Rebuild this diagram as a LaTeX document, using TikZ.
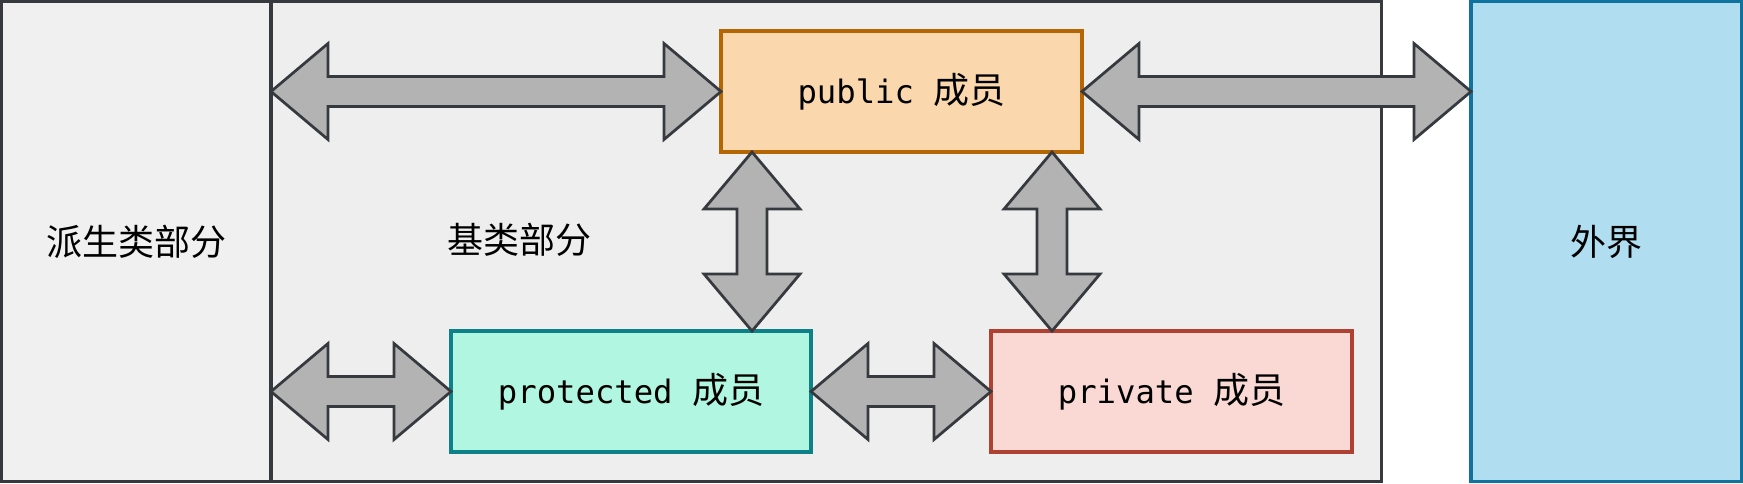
\documentclass[tikz,border=0pt]{standalone}
\usepackage{fontspec}
\setmonofont{DejaVu Sans Mono}
\newfontfamily\cjk{Noto Sans CJK SC}
\usetikzlibrary{calc}
\definecolor{dark}{HTML}{36393D}
\definecolor{leftfill}{HTML}{F0F0F0}
\definecolor{basefill}{HTML}{EEEEEE}
\definecolor{arrowgray}{HTML}{B3B3B3}
\definecolor{pubfill}{HTML}{FAD7AC}
\definecolor{publine}{HTML}{B46504}
\definecolor{protfill}{HTML}{B0F6E0}
\definecolor{protline}{HTML}{0E8088}
\definecolor{privfill}{HTML}{FAD9D5}
\definecolor{privline}{HTML}{AE4132}
\definecolor{outfill}{HTML}{B1DDF0}
\definecolor{outline}{HTML}{10739E}
\newcommand\cnsz{\fontsize{14.4}{16}\cjk}
\tikzset{
  panel/.style={draw=dark, line width=1.3pt, inner sep=0pt, outer sep=0pt,
    minimum height=192pt, font=\cnsz},
  member/.style={line width=1.4pt, inner sep=0pt, outer sep=0pt,
    minimum height=48.4pt, font=\fontsize{12.9}{15}\selectfont\ttfamily},
  arr/.style={draw=dark, fill=arrowgray, line width=1.1pt, line join=miter},
  plain/.style={inner sep=0pt, font=\cnsz},
}
\newcommand\harrow[2]{\draw[arr] (#1) -- ++(57,-48) -- ++(0,33) -- ($(#2)+(-57,-15)$) -- ++(0,-33) -- (#2) -- ++(-57,48) -- ++(0,-33) -- ($(#1)+(57,15)$) -- ++(0,33) -- cycle;}
\newcommand\varrow[2]{\draw[arr] (#1) -- ++(-48,57) -- ++(33,0) -- ($(#2)+(-15,-57)$) -- ++(-33,0) -- (#2) -- ++(48,-57) -- ++(-33,0) -- ($(#1)+(15,57)$) -- ++(33,0) -- cycle;}
\begin{document}
\begin{tikzpicture}[x=0.4pt, y=-0.4pt]
\useasboundingbox (0,0) rectangle (1743,483);
% panels
\node[panel, fill=leftfill, minimum width=107.8pt] (derived) at (136.25,241.5) {派生类部分};
\node[panel, fill=basefill, minimum width=444.2pt] (base) at (826.25,241.5) {};
\node[panel, fill=outfill, draw=outline, minimum width=108.2pt] (out) at (1606.25,241.5) {外界};
\node[plain] (baselabel) at (519,240) {基类部分};
% members
\node[member, fill=pubfill, draw=publine, minimum width=144.4pt] (pub) at (901.5,91.5) {public {\cnsz 成员}};
\node[member, fill=protfill, draw=protline, minimum width=144pt] (prot) at (631,391.5) {protected {\cnsz 成员}};
\node[member, fill=privfill, draw=privline, minimum width=144.4pt] (priv) at (1171.5,391.5) {private {\cnsz 成员}};
% connector end points
\coordinate (a1) at (base.west |- pub.west);
\coordinate (a2) at (out.west |- pub.east);
\coordinate (a3) at (base.west |- prot.west);
\coordinate (v1) at ($(pub.south west)+(31,0)$);
\coordinate (v1b) at (v1 |- prot.north);
\coordinate (v2) at ($(pub.south east)+(-30,0)$);
\coordinate (v2b) at (v2 |- priv.north);
% double arrows
\harrow{a1}{pub.west}
\harrow{pub.east}{a2}
\harrow{a3}{prot.west}
\harrow{prot.east}{priv.west}
\varrow{v1}{v1b}
\varrow{v2}{v2b}
\end{tikzpicture}
\end{document}
